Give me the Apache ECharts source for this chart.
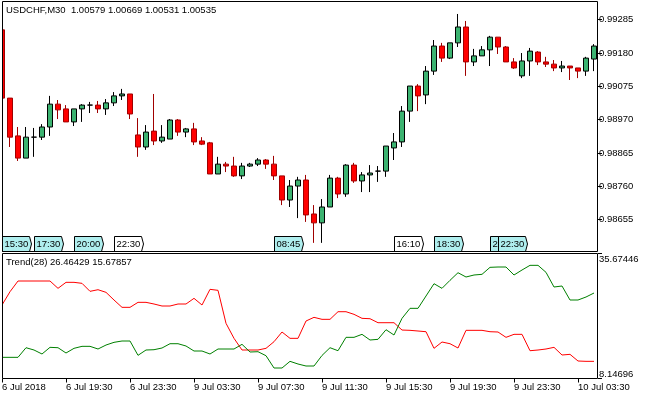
<!DOCTYPE html>
<html><head><meta charset="utf-8">
<script src="https://cdn.jsdelivr.net/npm/echarts@6/dist/echarts.min.js"></script>
<style>html,body{margin:0;padding:0;background:#fff}#c{width:650px;height:400px}</style>
</head><body><div id="c"></div>
<script>
const categories = [
 '6 Jul 15:30','6 Jul 16:00','6 Jul 16:30','6 Jul 17:00','6 Jul 17:30','6 Jul 18:00','6 Jul 18:30','6 Jul 19:00',
 '6 Jul 19:30','6 Jul 20:00','6 Jul 20:30','6 Jul 21:00','6 Jul 21:30','6 Jul 22:00','6 Jul 22:30','6 Jul 23:00','6 Jul 23:30',
 '9 Jul 00:00','9 Jul 00:30','9 Jul 01:00','9 Jul 01:30','9 Jul 02:00','9 Jul 02:30','9 Jul 03:00','9 Jul 03:30',
 '9 Jul 04:00','9 Jul 04:30','9 Jul 05:00','9 Jul 05:30','9 Jul 06:00','9 Jul 06:30','9 Jul 07:00','9 Jul 07:30',
 '9 Jul 08:00','9 Jul 08:30','9 Jul 09:00','9 Jul 09:30','9 Jul 10:00','9 Jul 10:30','9 Jul 11:00','9 Jul 11:30',
 '9 Jul 12:00','9 Jul 12:30','9 Jul 13:00','9 Jul 13:30','9 Jul 14:00','9 Jul 14:30','9 Jul 15:00','9 Jul 15:30',
 '9 Jul 16:00','9 Jul 16:30','9 Jul 17:00','9 Jul 17:30','9 Jul 18:00','9 Jul 18:30','9 Jul 19:00','9 Jul 19:30',
 '9 Jul 20:00','9 Jul 20:30','9 Jul 21:00','9 Jul 21:30','9 Jul 22:00','9 Jul 22:30','9 Jul 23:00','9 Jul 23:30',
 '10 Jul 00:00','10 Jul 00:30','10 Jul 01:00','10 Jul 01:30','10 Jul 02:00','10 Jul 02:30','10 Jul 03:00','10 Jul 03:30',
 '10 Jul 04:00','10 Jul 04:30'
];
const openP = [
 0.99253,0.99038,0.98919,0.98849,0.98915,0.98915,0.98947,0.99019,0.99004,0.98963,
 0.99004,0.99016,0.99016,0.99004,0.99023,0.99045,0.99051,0.98922,0.98884,0.98934,
 0.98903,0.98909,0.98969,0.98931,0.98941,0.98903,0.98897,0.98799,0.98830,0.98824,
 0.98793,0.98824,0.98830,0.98843,0.98830,0.98793,0.98717,0.98761,0.98780,0.98673,
 0.98645,0.98695,0.98786,0.98736,0.98827,0.98777,0.98796,0.98808,0.98808,0.98881,
 0.98900,0.98997,0.99076,0.99048,0.99123,0.99202,0.99164,0.99212,0.99262,0.99152,
 0.99171,0.99190,0.99230,0.99199,0.99152,0.99108,0.99155,0.99183,0.99152,0.99145,
 0.99133,0.99139,0.99133,0.99123,0.99161
];
const highP = [
 0.99253,0.99038,0.98947,0.98947,0.98944,0.98956,0.99045,0.99032,0.99016,0.99004,
 0.99019,0.99026,0.99029,0.99035,0.99057,0.99067,0.99051,0.98975,0.98953,0.99051,
 0.98953,0.98972,0.98972,0.98944,0.98960,0.98915,0.98900,0.98853,0.98837,0.98853,
 0.98834,0.98834,0.98849,0.98846,0.98856,0.98793,0.98780,0.98790,0.98796,0.98701,
 0.98720,0.98796,0.98790,0.98830,0.98834,0.98805,0.98827,0.98824,0.98887,0.98928,
 0.99013,0.99076,0.99082,0.99139,0.99221,0.99212,0.99212,0.99303,0.99281,0.99193,
 0.99202,0.99234,0.99230,0.99202,0.99164,0.99180,0.99196,0.99186,0.99168,0.99158,
 0.99155,0.99139,0.99133,0.99168,0.99208
];
const lowP = [
 0.99038,0.98884,0.98840,0.98849,0.98853,0.98906,0.98919,0.98972,0.98963,0.98950,
 0.98963,0.98991,0.98991,0.98985,0.99013,0.99032,0.98972,0.98853,0.98875,0.98890,
 0.98897,0.98909,0.98919,0.98915,0.98890,0.98890,0.98799,0.98799,0.98805,0.98790,
 0.98783,0.98821,0.98824,0.98815,0.98780,0.98701,0.98695,0.98660,0.98648,0.98582,
 0.98582,0.98695,0.98723,0.98727,0.98771,0.98742,0.98742,0.98774,0.98790,0.98843,
 0.98884,0.98963,0.98997,0.99019,0.99111,0.99152,0.99161,0.99199,0.99108,0.99139,
 0.99171,0.99139,0.99177,0.99152,0.99130,0.99101,0.99108,0.99142,0.99136,0.99123,
 0.99120,0.99095,0.99101,0.99108,0.99123
];
const closeP = [
 0.99038,0.98915,0.98849,0.98915,0.98915,0.98947,0.99019,0.99001,0.98963,0.99004,
 0.99016,0.99016,0.99004,0.99023,0.99045,0.99051,0.98988,0.98884,0.98931,0.98903,
 0.98915,0.98969,0.98931,0.98941,0.98900,0.98893,0.98799,0.98830,0.98824,0.98793,
 0.98824,0.98830,0.98843,0.98830,0.98793,0.98717,0.98761,0.98780,0.98670,0.98645,
 0.98695,0.98786,0.98736,0.98827,0.98777,0.98796,0.98802,0.98808,0.98887,0.98900,
 0.98997,0.99076,0.99045,0.99123,0.99202,0.99164,0.99212,0.99262,0.99152,0.99171,
 0.99190,0.99230,0.99199,0.99152,0.99133,0.99155,0.99186,0.99152,0.99145,0.99133,
 0.99139,0.99133,0.99123,0.99164,0.99202
];
const trendRed = [
 24.71,27.90,30.47,30.47,30.47,30.47,30.47,28.71,30.15,30.15,
 29.91,27.99,28.38,27.75,25.91,24.15,24.15,25.35,25.35,24.95,
 24.47,24.47,24.95,24.95,26.31,24.71,28.47,28.23,20.31,16.71,
 13.91,13.91,13.91,14.31,15.90,18.23,16.71,16.71,20.87,21.75,
 21.27,21.27,23.10,23.10,22.47,21.51,21.42,20.46,20.46,20.46,
 18.70,18.63,18.47,18.30,14.31,15.83,15.42,14.39,18.63,18.63,
 18.63,18.30,18.23,16.95,17.67,17.67,13.74,13.91,14.15,14.55,
 12.71,12.87,11.27,11.19,11.19
];
const trendGreen = [
 12.15,12.15,12.15,14.46,13.91,12.95,14.55,14.46,13.19,14.31,
 14.79,14.79,14.15,15.10,15.75,16.07,16.07,12.63,13.91,13.98,
 14.39,15.42,15.42,14.87,13.67,13.67,12.95,14.15,14.15,14.15,
 15.27,13.43,13.50,12.54,9.59,9.59,11.19,10.55,10.07,10.07,
 12.60,14.46,13.74,16.95,16.95,17.67,16.31,16.47,18.78,17.51,
 21.51,23.91,23.91,26.87,29.82,28.71,30.63,32.46,31.43,31.91,
 32.07,33.75,33.83,33.83,31.91,33.11,34.23,34.23,32.55,29.03,
 29.27,25.91,25.91,26.63,27.59
];
const priceTicks = [0.98655,0.98760,0.98865,0.98970,0.99075,0.99180,0.99285];
const trendTicks = [8.14696,35.67446];
const timeTicks = ['6 Jul 2018','6 Jul 19:30','6 Jul 23:30','9 Jul 03:30','9 Jul 07:30','9 Jul 11:30','9 Jul 15:30','9 Jul 19:30','9 Jul 23:30','10 Jul 03:30'];
const sessions = [
 [0,'15:30','#AFEEEE'],[4,'17:30','#AFEEEE'],[9,'20:00','#AFEEEE'],[14,'22:30','#FFFFFF'],
 [34,'08:45','#AFEEEE'],[49,'16:10','#FFFFFF'],[54,'18:30','#AFEEEE'],[61,'22:00','#AFEEEE'],[62,'22:30','#AFEEEE']
];
const headerText = 'USDCHF,M30  1.00579 1.00669 1.00531 1.00535';
const trendTitle = 'Trend(28) 26.46429 15.67857';

const FONT = 'Liberation Sans';
const FS = 9.5;
const candles = categories.map((c, i) => [openP[i], closeP[i], lowP[i], highP[i]]);

const chart = echarts.init(document.getElementById('c'), null, {renderer: 'canvas'});
chart.setOption({
  animation: false,
  backgroundColor: '#fff',
  grid: [
    {left: -2, width: 600, top: 1.5, height: 250, outerBoundsMode: 'none', containLabel: false},
    {left: -2, width: 600, top: 253.5, height: 125, outerBoundsMode: 'none', containLabel: false}
  ],
  xAxis: [
    {type: 'category', gridIndex: 0, data: categories, boundaryGap: true, show: false},
    {type: 'category', gridIndex: 1, data: categories, boundaryGap: true,
     axisLine: {show: false},
     axisTick: {show: true, alignWithLabel: true, interval: (i) => i % 8 === 0, length: 4, lineStyle: {color: '#000'}},
     axisLabel: {show: true, interval: (i) => i % 8 === 0, align: 'left', margin: 4, color: '#000',
       fontFamily: FONT, fontSize: FS, formatter: (v, i) => timeTicks[Math.round(i / 8)] || ''},
     splitLine: {show: false}}
  ],
  yAxis: [
    {type: 'value', gridIndex: 0, position: 'right', min: 0.985548, max: 0.993423, scale: true,
     axisLine: {show: false}, splitLine: {show: false},
     axisTick: {show: true, length: 4, customValues: priceTicks, lineStyle: {color: '#000'}},
     axisLabel: {show: true, margin: 1, customValues: priceTicks, color: '#000', fontFamily: FONT, fontSize: FS,
       formatter: (v) => v.toFixed(5)}},
    {type: 'value', gridIndex: 1, position: 'right', min: 7.07, max: 37.07,
     axisLine: {show: false}, splitLine: {show: false},
     axisTick: {show: true, length: 4, customValues: [7.07, 37.07], lineStyle: {color: '#000'}},
     axisLabel: {show: true, margin: 1, customValues: trendTicks, color: '#000', fontFamily: FONT, fontSize: FS,
       formatter: (v) => v.toFixed(5)}}
  ],
  series: [
    {type: 'candlestick', xAxisIndex: 0, yAxisIndex: 0, data: candles, barWidth: 5,
     itemStyle: {color: '#3CB371', color0: '#FF0000', borderColor: '#000000', borderColor0: '#A00000',
       borderColorDoji: '#000000', borderWidth: 1}},
    {type: 'custom', xAxisIndex: 0, yAxisIndex: 0, z: 5, clip: false,
     data: sessions.map(s => [s[0], 0.987]),
     renderItem: function (params, api) {
       const s = sessions[params.dataIndex];
       const x = Math.round(api.coord([api.value(0), api.value(1)])[0]) + 0.5;
       const cs = params.coordSys;
       const b = cs.y + cs.height;
       const t = b - 15;
       return {type: 'group', children: [
         {type: 'polygon', shape: {points: [[x, t], [x + 27, t], [x + 29, (t + b) / 2], [x + 27, b], [x, b]]},
          style: {fill: s[2], stroke: '#000', lineWidth: 1}},
         {type: 'text', style: {text: s[1], x: x + 2, y: (t + b) / 2 + 0.5, verticalAlign: 'middle', align: 'left',
          font: FS + 'px "' + FONT + '"', fill: '#000'}}
       ]};
     }},
    {type: 'line', xAxisIndex: 1, yAxisIndex: 1, data: trendRed, symbol: 'none', smooth: false,
     lineStyle: {color: '#FF0000', width: 1}},
    {type: 'line', xAxisIndex: 1, yAxisIndex: 1, data: trendGreen, symbol: 'none', smooth: false,
     lineStyle: {color: '#008000', width: 1}}
  ],
  graphic: [
    {type: 'rect', z: 100, shape: {x: 0, y: 0, width: 2, height: 400}, style: {fill: '#fff'}},
    {type: 'rect', z: 101, shape: {x: 2.5, y: 1.5, width: 595, height: 250}, style: {fill: 'none', stroke: '#000', lineWidth: 1}},
    {type: 'rect', z: 101, shape: {x: 2.5, y: 253.5, width: 595, height: 125}, style: {fill: 'none', stroke: '#000', lineWidth: 1}},
    {type: 'text', z: 102, left: 6, top: 5, style: {text: headerText, font: FS + 'px "' + FONT + '"', fill: '#000'}},
    {type: 'text', z: 102, left: 6, top: 257, style: {text: trendTitle, font: FS + 'px "' + FONT + '"', fill: '#000'}}
  ]
});
</script></body></html>
